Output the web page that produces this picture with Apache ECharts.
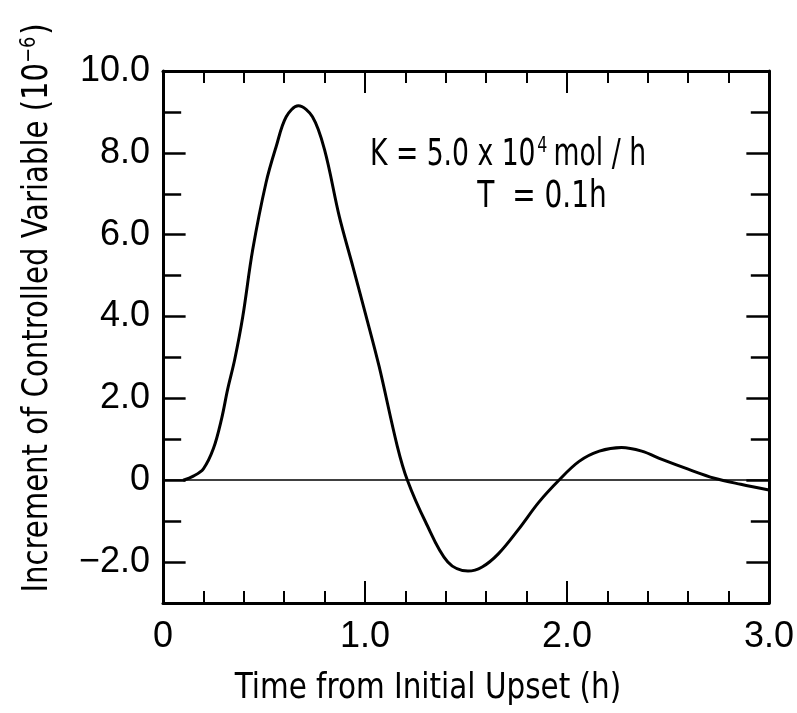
<!DOCTYPE html>
<html>
<head>
<meta charset="utf-8">
<script src="https://cdn.jsdelivr.net/npm/echarts@6/dist/echarts.min.js"></script>
<style>
  html, body { margin: 0; padding: 0; background: #fff; }
  #chart { width: 797px; height: 713px; }
</style>
</head>
<body>
<div id="chart"></div>
<script>
// time (h) and increment of controlled variable (x 10^-6)
const timeH = [0.1, 0.15, 0.2, 0.25, 0.29, 0.32, 0.355, 0.395, 0.444, 0.51, 0.56, 0.61,
  0.67, 0.74, 0.8, 0.873, 0.94, 1.006, 1.07, 1.16, 1.21, 1.3, 1.41, 1.51, 1.58, 1.66,
  1.76, 1.86, 1.96, 2.06, 2.16, 2.27, 2.37, 2.47, 2.6, 2.73, 2.86, 3.0];
const increment = [0, 0.1, 0.28, 0.78, 1.5, 2.22, 2.95, 4.0, 5.63, 7.27, 8.15, 8.88,
  9.15, 8.88, 8.07, 6.44, 5.22, 4.0, 2.78, 0.83, 0, -1.02, -2.0, -2.22, -2.12, -1.8,
  -1.2, -0.54, 0, 0.46, 0.71, 0.8, 0.71, 0.51, 0.27, 0.05, -0.1, -0.24];

const xTitle = "Time from Initial Upset (h)";
const yTitle = "Increment of Controlled Variable (10";

const chart = echarts.init(document.getElementById("chart"));
const ink = "#000";
const tickFont = { color: ink, fontSize: 36, fontFamily: "Liberation Sans" };
const titleFont = "DejaVu Sans Condensed";

function xAxisDef(pos, labels) {
  return {
    type: "value", position: pos, min: 0, max: 3, interval: 1,
    axisLine: { onZero: false, lineStyle: { color: ink, width: 3 } },
    axisTick: { inside: true, length: 22, lineStyle: { color: ink, width: 2 } },
    minorTick: { show: true, splitNumber: 5, length: 12, lineStyle: { color: ink, width: 2 } },
    splitLine: { show: false },
    axisLabel: labels ? Object.assign({ margin: 16, formatter: v => v === 0 ? "0" : v.toFixed(1) }, tickFont) : { show: false }
  };
}
function yAxisDef(pos, labels) {
  return {
    type: "value", position: pos, min: -3, max: 10, interval: 1,
    axisLine: { onZero: false, lineStyle: { color: ink, width: 3 } },
    axisTick: { show: false },
    splitLine: { show: false },
    axisLabel: labels ? Object.assign({
      margin: 13,
      formatter: v => {
        if (v % 2 !== 0 || v < -2) return "";
        if (v === 0) return "0";
        return (v < 0 ? "\u2212" : "") + Math.abs(v).toFixed(1);
      }
    }, tickFont) : { show: false }
  };
}

const yMajor = [-2, 0, 2, 4, 6, 8, 10];
const yMinor = [-3, -1, 1, 3, 5, 7, 9];

chart.setOption({
  backgroundColor: "#fff",
  animation: false,
  grid: { left: 163, right: 27, top: 71, bottom: 110 },
  xAxis: [xAxisDef("bottom", true), xAxisDef("top", false)],
  yAxis: [yAxisDef("left", true), yAxisDef("right", false)],
  series: [
    {
      type: "line",
      data: timeH.map((t, i) => [t, increment[i]]),
      smooth: 0.35,
      showSymbol: false,
      lineStyle: { color: ink, width: 3 },
      markLine: {
        silent: true, symbol: ["none", "none"], label: { show: false },
        lineStyle: { color: ink, width: 1.5, type: "solid" },
        data: [
          { yAxis: 0 },
          // y-axis ticks on left and right (major even, minor odd)
          ...yMajor.map(v => [{ coord: [0, v] }, { coord: [0.112, v] }]),
          ...yMinor.map(v => [{ coord: [0, v] }, { coord: [0.09, v] }]),
          ...yMajor.map(v => [{ coord: [3, v] }, { coord: [2.888, v] }]),
          ...yMinor.map(v => [{ coord: [3, v] }, { coord: [2.91, v] }])
        ].map(d => Array.isArray(d) ? d.map(p => Object.assign(p, { lineStyle: { width: 2.5 } })) : d)
      }
    }
  ],
  graphic: [
    {
      type: "text", x: 508, y: 155, scaleX: 0.8,
      style: {
        text: "{a|K = 5.0 x 10}{s|4}{a|mol / h}",
        align: "center", verticalAlign: "middle",
        rich: {
          a: { fontSize: 37, fontFamily: titleFont, fill: ink },
          s: { fontSize: 22, fontFamily: titleFont, fill: ink, padding: [0, 8, 18, 2] }
        }
      }
    },
    {
      type: "text", x: 542, y: 197, scaleX: 0.84,
      style: {
        text: "T  = 0.1h", align: "center", verticalAlign: "middle",
        fontSize: 37, fontFamily: titleFont, fill: ink
      }
    },
    {
      type: "text", x: 428, y: 689, scaleX: 0.91,
      style: {
        text: xTitle, align: "center", verticalAlign: "middle",
        fontSize: 36, fontFamily: titleFont, fill: ink
      }
    },
    {
      type: "text", x: 38, y: 308, rotation: Math.PI / 2, scaleX: 0.9,
      style: {
        text: "{a|" + yTitle + "}{s|\u22126}{a|)}",
        align: "center", verticalAlign: "middle",
        rich: {
          a: { fontSize: 36, fontFamily: titleFont, fill: ink },
          s: { fontSize: 22, fontFamily: titleFont, fill: ink, padding: [0, 2, 18, 0] }
        }
      }
    }
  ]
});
</script>
</body>
</html>
